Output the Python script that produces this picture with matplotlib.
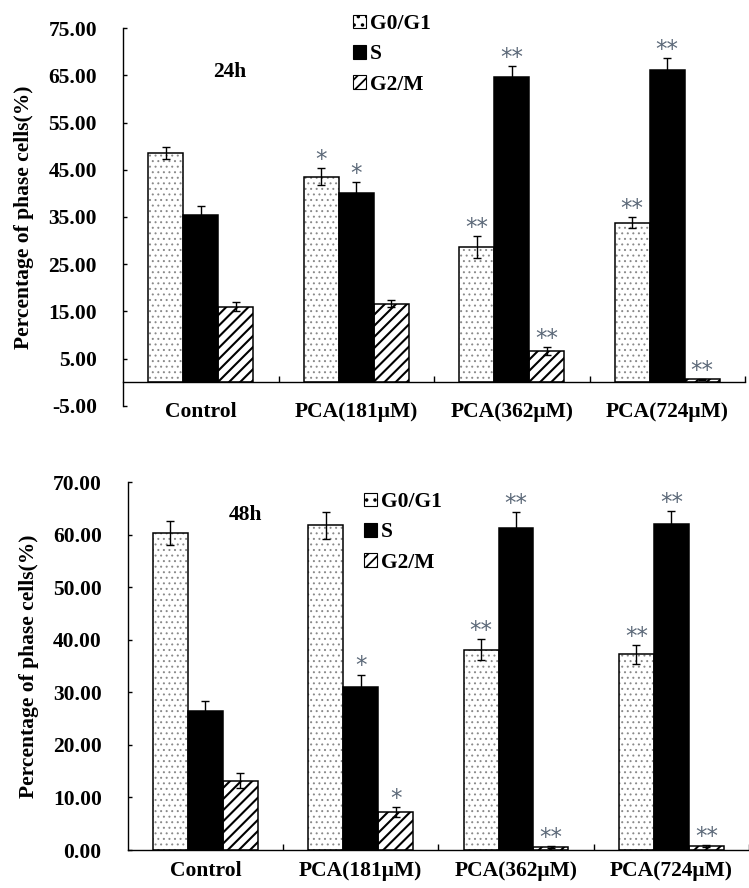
import matplotlib
matplotlib.use("Agg")
import matplotlib.pyplot as plt
from matplotlib.patches import Patch
import numpy as np

categories = ['Control', 'PCA(181μM)', 'PCA(362μM)', 'PCA(724μM)']
series_names = ['G0/G1', 'S', 'G2/M']

# 24h
g0_24 = [48.6, 43.5, 28.7, 33.8]
g0_24_err = [1.2, 1.8, 2.3, 1.1]
s_24 = [35.4, 40.1, 64.7, 66.2]
s_24_err = [1.9, 2.3, 2.3, 2.4]
g2_24 = [16.0, 16.6, 6.6, 0.6]
g2_24_err = [0.9, 0.7, 0.9, 0.1]
g0_24_sig = ['', '*', '**', '**']
s_24_sig = ['', '*', '**', '**']
g2_24_sig = ['', '', '**', '**']

# 48h
g0_48 = [60.3, 61.8, 38.1, 37.3]
g0_48_err = [2.3, 2.6, 2.0, 1.8]
s_48 = [26.4, 31.1, 61.3, 62.0]
s_48_err = [1.9, 2.3, 3.0, 2.6]
g2_48 = [13.2, 7.2, 0.6, 0.8]
g2_48_err = [1.4, 1.0, 0.15, 0.2]
g0_48_sig = ['', '', '**', '**']
s_48_sig = ['', '*', '**', '**']
g2_48_sig = ['', '*', '**', '**']

yticks_24 = [-5, 5, 15, 25, 35, 45, 55, 65, 75]
yticks_48 = [0, 10, 20, 30, 40, 50, 60, 70]

FONT = 'Liberation Serif'
FS = 15.5
STAR_COLOR = '#5b6878'
plt.rcParams['hatch.linewidth'] = 1.3

fig = plt.figure(figsize=(7.49, 8.88), dpi=100)

W, H = 749.0, 888.0
ax1 = fig.add_axes([123 / W, 1 - 405.7 / H, (745 - 123) / W, 377.4 / H])
ax2 = fig.add_axes([127.7 / W, 1 - 850 / H, (749 - 127.7) / W, 367.7 / H])

bw = 0.225
x = np.arange(len(categories))


def set_hlw(container, lw):
    for p in container.patches:
        if hasattr(p, 'set_hatch_linewidth'):
            p.set_hatch_linewidth(lw)


def draw_panel(ax, data, errs, sigs, ylim, yticks, xlim, xpad, label_text, label_pos, leg_anchor):
    for sp in ['top', 'right']:
        ax.spines[sp].set_visible(False)
    ax.spines['bottom'].set_position(('data', 0))
    ax.spines['left'].set_linewidth(1.0)
    ax.spines['bottom'].set_linewidth(1.0)

    styles = [
        dict(face='white', hatch='...', hcolor='#8a8a8a', hlw=0.7),
        dict(face='black', hatch=None, hcolor='black', hlw=1.0),
        dict(face='white', hatch='///', hcolor='black', hlw=1.5),
    ]
    handles = []
    for i, (vals, err, sig, st) in enumerate(zip(data, errs, sigs, styles)):
        xs = x + (i - 1) * bw
        if st['hatch']:
            bc = ax.bar(xs, vals, bw, color=st['face'], edgecolor=st['hcolor'],
                        hatch=st['hatch'], linewidth=0, zorder=2)
            set_hlw(bc, st['hlw'])
        ax.bar(xs, vals, bw, facecolor=st['face'] if not st['hatch'] else 'none',
               edgecolor='black', linewidth=1.1, zorder=3)
        ax.errorbar(xs, vals, yerr=err, fmt='none', ecolor='black',
                    elinewidth=1.0, capsize=3, capthick=1.0, zorder=4)
        for xi, v, e, s in zip(xs, vals, err, sig):
            if s:
                ax.annotate(s, (xi, v + e), xytext=(0, 1.5), textcoords='offset points',
                            ha='center', va='baseline', fontsize=16.5,
                            family='DejaVu Sans', color=STAR_COLOR, zorder=5)
        h = Patch(facecolor=st['face'], edgecolor='black',
                  hatch=('..' if st['hatch'] == '...' else st['hatch']), linewidth=0.8)
        if hasattr(h, 'set_hatch_linewidth'):
            h.set_hatch_linewidth(0.8)
        handles.append(h)
    ax.set_ylim(*ylim)
    ax.set_xlim(*xlim)
    ax.set_yticks(yticks)
    ax.set_yticklabels(['%.2f' % t for t in yticks], fontfamily=FONT,
                       fontweight='bold', fontsize=FS)
    ax.tick_params(axis='y', direction='in', length=3, width=1.0, pad=18.7)
    ax.set_xticks(x)
    ax.set_xticklabels(categories, fontfamily=FONT, fontweight='bold', fontsize=FS)
    ax.tick_params(axis='x', which='major', length=0, pad=xpad)
    ax.set_xticks(list(x[:-1] + 0.5) + [3.5], minor=True)
    ax.tick_params(axis='x', which='minor', direction='in', length=4.5, width=1.0)
    ax.set_ylabel('Percentage of phase cells(%)', fontfamily=FONT,
                  fontweight='bold', fontsize=FS)
    ax.yaxis.set_label_coords(-0.143, 0.5)
    ax.text(label_pos[0], label_pos[1], label_text, transform=ax.transAxes,
            ha='center', va='center', fontfamily=FONT, fontweight='bold', fontsize=FS)
    leg = ax.legend(handles, series_names, loc='upper left', bbox_to_anchor=leg_anchor,
                    bbox_transform=fig.transFigure, frameon=False,
                    prop=dict(family=FONT, weight='bold', size=FS),
                    handlelength=0.6, handleheight=0.6, handletextpad=0.2,
                    labelspacing=0.48, borderpad=0, borderaxespad=0)
    return leg


draw_panel(ax1, [g0_24, s_24, g2_24], [g0_24_err, s_24_err, g2_24_err],
           [g0_24_sig, s_24_sig, g2_24_sig], (-5, 75), yticks_24, (-0.5, 3.5),
           14.0, '24h', (0.172, 0.884), (353 / W, 1 - 14 / H))

draw_panel(ax2, [g0_48, s_48, g2_48], [g0_48_err, s_48_err, g2_48_err],
           [g0_48_sig, s_48_sig, g2_48_sig], (0, 70), yticks_48, (-0.5, 3.455),
           8.2, '48h', (0.189, 0.911), (364 / W, 1 - 492 / H))

fig.savefig('out.png', dpi=100)
